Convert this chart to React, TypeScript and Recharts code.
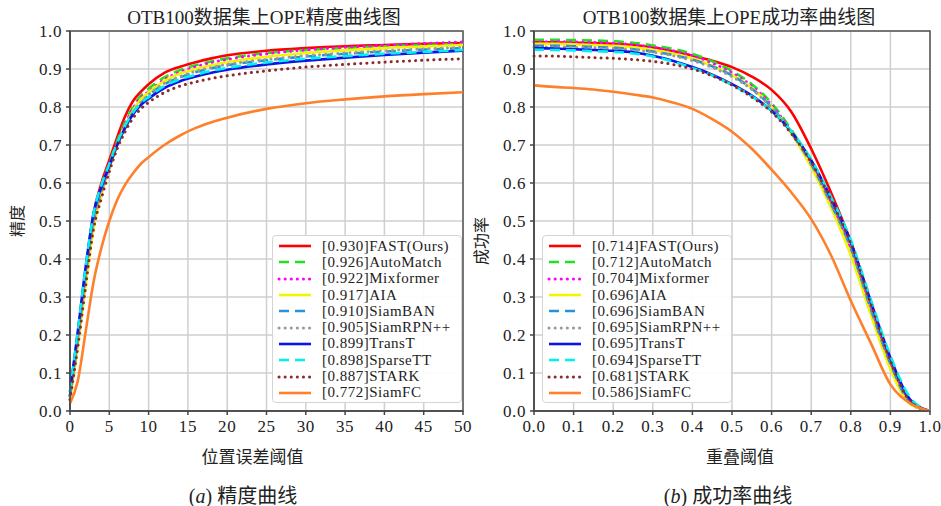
import { LineChart, Line, XAxis, YAxis, CartesianGrid, Legend, ReferenceArea, Label } from "recharts";

const FONT = "'Liberation Serif', 'Noto Sans CJK SC', serif";

const trackers = ["FAST(Ours)", "AutoMatch", "Mixformer", "AIA", "SiamBAN", "SiamRPN++", "TransT", "SparseTT", "STARK", "SiamFC"];
const precScores = ["0.930", "0.926", "0.922", "0.917", "0.910", "0.905", "0.899", "0.898", "0.887", "0.772"];
const succScores = ["0.714", "0.712", "0.704", "0.696", "0.696", "0.695", "0.695", "0.694", "0.681", "0.586"];

// precision plot: location error threshold
const errorThresholds = [0, 1, 2, 3, 4, 5, 6, 7, 8, 9, 10, 12, 14, 16, 18, 20, 25, 30, 35, 40, 45, 50];
const precFast = [0.04, 0.2, 0.37, 0.52, 0.6, 0.66, 0.72, 0.775, 0.815, 0.84, 0.86, 0.89, 0.906, 0.918, 0.928, 0.936, 0.948, 0.955, 0.96, 0.963, 0.966, 0.968];
const precAutoMatch = [0.04, 0.2, 0.36, 0.51, 0.59, 0.65, 0.71, 0.76, 0.8, 0.83, 0.848, 0.878, 0.897, 0.91, 0.92, 0.928, 0.942, 0.95, 0.955, 0.96, 0.963, 0.966];
const precMixformer = [0.04, 0.2, 0.36, 0.51, 0.59, 0.65, 0.705, 0.755, 0.795, 0.825, 0.84, 0.872, 0.892, 0.906, 0.917, 0.925, 0.94, 0.95, 0.957, 0.962, 0.967, 0.971];
const precAIA = [0.03, 0.17, 0.33, 0.48, 0.57, 0.64, 0.7, 0.75, 0.79, 0.82, 0.838, 0.868, 0.888, 0.9, 0.91, 0.918, 0.932, 0.942, 0.949, 0.955, 0.959, 0.963];
const precSiamBAN = [0.04, 0.19, 0.36, 0.5, 0.58, 0.64, 0.7, 0.745, 0.785, 0.81, 0.83, 0.86, 0.878, 0.892, 0.902, 0.91, 0.923, 0.933, 0.94, 0.946, 0.951, 0.955];
const precSiamRPN = [0.04, 0.19, 0.36, 0.5, 0.58, 0.64, 0.7, 0.747, 0.787, 0.812, 0.832, 0.862, 0.88, 0.894, 0.904, 0.912, 0.925, 0.935, 0.942, 0.948, 0.953, 0.957];
const precTransT = [0.05, 0.21, 0.38, 0.52, 0.59, 0.645, 0.7, 0.745, 0.78, 0.805, 0.822, 0.85, 0.868, 0.88, 0.89, 0.898, 0.912, 0.922, 0.93, 0.937, 0.943, 0.948];
const precSparseTT = [0.05, 0.21, 0.38, 0.52, 0.595, 0.65, 0.705, 0.75, 0.785, 0.81, 0.826, 0.855, 0.873, 0.885, 0.895, 0.903, 0.917, 0.927, 0.934, 0.94, 0.945, 0.95];
const precSTARK = [0.03, 0.17, 0.33, 0.48, 0.56, 0.63, 0.69, 0.735, 0.77, 0.795, 0.812, 0.838, 0.855, 0.866, 0.875, 0.882, 0.895, 0.905, 0.912, 0.918, 0.923, 0.927];
const precSiamFC = [0.02, 0.08, 0.21, 0.34, 0.43, 0.5, 0.555, 0.595, 0.625, 0.65, 0.668, 0.7, 0.725, 0.745, 0.76, 0.772, 0.795, 0.81, 0.82, 0.828, 0.834, 0.839];

// success plot: overlap threshold
const overlapThresholds = [0, 0.05, 0.1, 0.15, 0.2, 0.25, 0.3, 0.35, 0.4, 0.45, 0.5, 0.55, 0.6, 0.65, 0.7, 0.75, 0.8, 0.85, 0.9, 0.95, 1.0];
const succFast = [0.97, 0.97, 0.969, 0.968, 0.966, 0.963, 0.957, 0.947, 0.935, 0.922, 0.905, 0.88, 0.845, 0.787, 0.69, 0.575, 0.445, 0.285, 0.13, 0.025, 0];
const succAutoMatch = [0.977, 0.977, 0.976, 0.975, 0.973, 0.969, 0.962, 0.953, 0.94, 0.92, 0.895, 0.86, 0.81, 0.74, 0.655, 0.55, 0.43, 0.27, 0.12, 0.02, 0];
const succMixformer = [0.972, 0.972, 0.971, 0.97, 0.968, 0.964, 0.957, 0.948, 0.935, 0.915, 0.89, 0.855, 0.805, 0.735, 0.65, 0.545, 0.425, 0.265, 0.118, 0.02, 0];
const succAIA = [0.966, 0.966, 0.965, 0.963, 0.961, 0.957, 0.95, 0.941, 0.928, 0.908, 0.884, 0.85, 0.8, 0.73, 0.642, 0.535, 0.41, 0.255, 0.11, 0.018, 0];
const succSiamBAN = [0.961, 0.961, 0.96, 0.958, 0.956, 0.952, 0.946, 0.937, 0.925, 0.907, 0.883, 0.848, 0.8, 0.732, 0.65, 0.545, 0.43, 0.27, 0.125, 0.022, 0];
const succSiamRPN = [0.958, 0.958, 0.957, 0.956, 0.954, 0.95, 0.944, 0.935, 0.922, 0.904, 0.88, 0.846, 0.798, 0.732, 0.652, 0.548, 0.432, 0.272, 0.128, 0.024, 0];
const succTransT = [0.955, 0.954, 0.952, 0.95, 0.948, 0.944, 0.935, 0.922, 0.905, 0.885, 0.86, 0.83, 0.79, 0.735, 0.66, 0.56, 0.445, 0.29, 0.14, 0.03, 0];
const succSparseTT = [0.951, 0.95, 0.949, 0.947, 0.945, 0.941, 0.933, 0.92, 0.903, 0.883, 0.858, 0.828, 0.79, 0.736, 0.662, 0.563, 0.45, 0.295, 0.145, 0.035, 0];
const succSTARK = [0.934, 0.934, 0.932, 0.93, 0.928, 0.925, 0.92, 0.912, 0.9, 0.882, 0.858, 0.826, 0.787, 0.73, 0.655, 0.555, 0.44, 0.283, 0.132, 0.026, 0];
const succSiamFC = [0.857, 0.853, 0.85, 0.846, 0.84, 0.833, 0.825, 0.812, 0.795, 0.768, 0.735, 0.69, 0.635, 0.575, 0.505, 0.41, 0.29, 0.18, 0.07, 0.02, 0];

const precTicksX = [0, 5, 10, 15, 20, 25, 30, 35, 40, 45, 50];
const succTicksX = [0, 0.1, 0.2, 0.3, 0.4, 0.5, 0.6, 0.7, 0.8, 0.9, 1.0];
const ticksY = [0, 0.1, 0.2, 0.3, 0.4, 0.5, 0.6, 0.7, 0.8, 0.9, 1.0];

const precSeries = [precFast, precAutoMatch, precMixformer, precAIA, precSiamBAN, precSiamRPN, precTransT, precSparseTT, precSTARK, precSiamFC];
const succSeries = [succFast, succAutoMatch, succMixformer, succAIA, succSiamBAN, succSiamRPN, succTransT, succSparseTT, succSTARK, succSiamFC];

const lineStyles = [
  { color: "#ff0000", dash: undefined },
  { color: "#22e022", dash: "10 6" },
  { color: "#ff00ff", dash: "0.1 6" },
  { color: "#f4f400", dash: undefined },
  { color: "#2a90d8", dash: "10 6" },
  { color: "#9a9a9a", dash: "0.1 6" },
  { color: "#0a14e6", dash: undefined },
  { color: "#00f0f0", dash: "10 6" },
  { color: "#8e2a2a", dash: "0.1 6" },
  { color: "#ff7f2a", dash: undefined },
];

const buildRows = (xs: number[], series: number[][]) =>
  xs.map((x, i) => {
    const row: Record<string, number> = { x };
    series.forEach((s, k) => (row["s" + k] = s[i]));
    return row;
  });

const precData = buildRows(errorThresholds, precSeries);
const succData = buildRows(overlapThresholds, succSeries);

const tickStyle = { fontFamily: FONT, fontSize: 17, fill: "#222", letterSpacing: 0.6 };

function LegendBox({ scores }: { scores: string[] }) {
  return (
    <div
      style={{
        background: "rgba(255,255,255,0.94)",
        border: "1px solid #d4d4d4",
        borderRadius: 4,
        padding: "2px 6px 1px 3px",
        fontFamily: FONT,
        fontSize: 15,
        letterSpacing: 0.5,
        color: "#222",
      }}
    >
      {trackers.map((name, i) => {
        const st = lineStyles[i];
        return (
          <div key={name} style={{ display: "flex", alignItems: "center", height: 16.3 }}>
            <svg width={42} height={10}>
              <line
                x1={3}
                y1={5}
                x2={35}
                y2={5}
                stroke={st.color}
                strokeWidth={st.dash === "0.1 6" ? 3 : 2.6}
                strokeDasharray={st.dash}
                strokeLinecap={st.dash === "0.1 6" ? "round" : "butt"}
              />
            </svg>
            <span style={{ marginLeft: 4, whiteSpace: "nowrap" }}>
              [{scores[i]}]{name}
            </span>
          </div>
        );
      })}
    </div>
  );
}

function Plot({
  data,
  xMax,
  xTicks,
  fmtX,
  xLabel,
  yLabel,
  yLabelDy,
  xLabelDx,
  scores,
  width,
  marginLeft,
  marginRight,
  legendLeft,
}: any) {
  return (
    <LineChart width={width} height={470} data={data} margin={{ top: 31, right: marginRight, left: marginLeft, bottom: 9 }}>
      <CartesianGrid stroke="#cfcfcf" strokeWidth={1.5} />
      <XAxis
        dataKey="x"
        type="number"
        domain={[0, xMax]}
        ticks={xTicks}
        tickFormatter={fmtX}
        tick={tickStyle}
        tickSize={4}
        tickMargin={5}
        stroke="#444"
        strokeWidth={1.5}
        height={50}
        interval={0}
      >
        <Label value={xLabel} position="insideBottom" offset={-2} dx={xLabelDx} style={{ fontFamily: FONT, fontSize: 17, fill: "#222" }} />
      </XAxis>
      <YAxis
        type="number"
        domain={[0, 1]}
        ticks={ticksY}
        tickFormatter={(v: number) => v.toFixed(1)}
        tick={tickStyle}
        tickSize={4}
        tickMargin={4}
        stroke="#444"
        strokeWidth={1.5}
        width={40}
        interval={0}
      >
        <Label value={yLabel} position="center" angle={-90} dx={-33} dy={yLabelDy} style={{ fontFamily: FONT, fontSize: 16, fill: "#222" }} />
      </YAxis>
      <ReferenceArea x1={0} x2={xMax} y1={0} y2={1} fill="none" stroke="#555" strokeWidth={1.5} />
      {lineStyles.map((st, k) => (
        <Line
          key={k}
          dataKey={"s" + k}
          type="monotone"
          stroke={st.color}
          strokeWidth={st.dash === "0.1 6" ? 3 : 2.6}
          strokeDasharray={st.dash}
          strokeLinecap={st.dash === "0.1 6" ? "round" : "butt"}
          dot={false}
          isAnimationActive={false}
        />
      ))}
      <Legend
        layout="horizontal"
        verticalAlign="middle"
        align="center"
        wrapperStyle={{ left: legendLeft, top: 235, width: 190 }}
        content={() => <LegendBox scores={scores} />}
      />
    </LineChart>
  );
}

const titleStyle = { position: "absolute" as const, top: 2, fontFamily: FONT, fontSize: 19, color: "#222", transform: "translateX(-50%)", whiteSpace: "nowrap" as const };
const captionStyle = { position: "absolute" as const, top: 480, fontFamily: FONT, fontSize: 20, color: "#222", transform: "translateX(-50%)", whiteSpace: "nowrap" as const };

export default function App() {
  return (
    <div style={{ position: "absolute", left: 0, top: 0, width: 941, height: 506, background: "#fff", overflow: "hidden", fontFamily: FONT }}>
      <div style={{ ...titleStyle, left: 264 }}>OTB100数据集上OPE精度曲线图</div>
      <div style={{ ...titleStyle, left: 729 }}>OTB100数据集上OPE成功率曲线图</div>
      <div style={{ position: "absolute", left: 0, top: 0 }}>
        <Plot
          data={precData}
          xMax={50}
          xTicks={precTicksX}
          fmtX={(v: number) => String(v)}
          xLabel="位置误差阈值"
          yLabel="精度"
          yLabelDy={0}
          xLabelDx={-14}
          scores={precScores}
          width={482}
          marginLeft={30}
          marginRight={19}
          legendLeft={272}
        />
      </div>
      <div style={{ position: "absolute", left: 470, top: 0 }}>
        <Plot
          data={succData}
          xMax={1}
          xTicks={succTicksX}
          fmtX={(v: number) => v.toFixed(1)}
          xLabel="重叠阈值"
          yLabel="成功率"
          yLabelDy={20}
          xLabelDx={8}
          scores={succScores}
          width={471}
          marginLeft={24}
          marginRight={11}
          legendLeft={72}
        />
      </div>
      <div style={{ ...captionStyle, left: 243 }}>
        (<i>a</i>) 精度曲线
      </div>
      <div style={{ ...captionStyle, left: 728 }}>
        (<i>b</i>) 成功率曲线
      </div>
    </div>
  );
}
